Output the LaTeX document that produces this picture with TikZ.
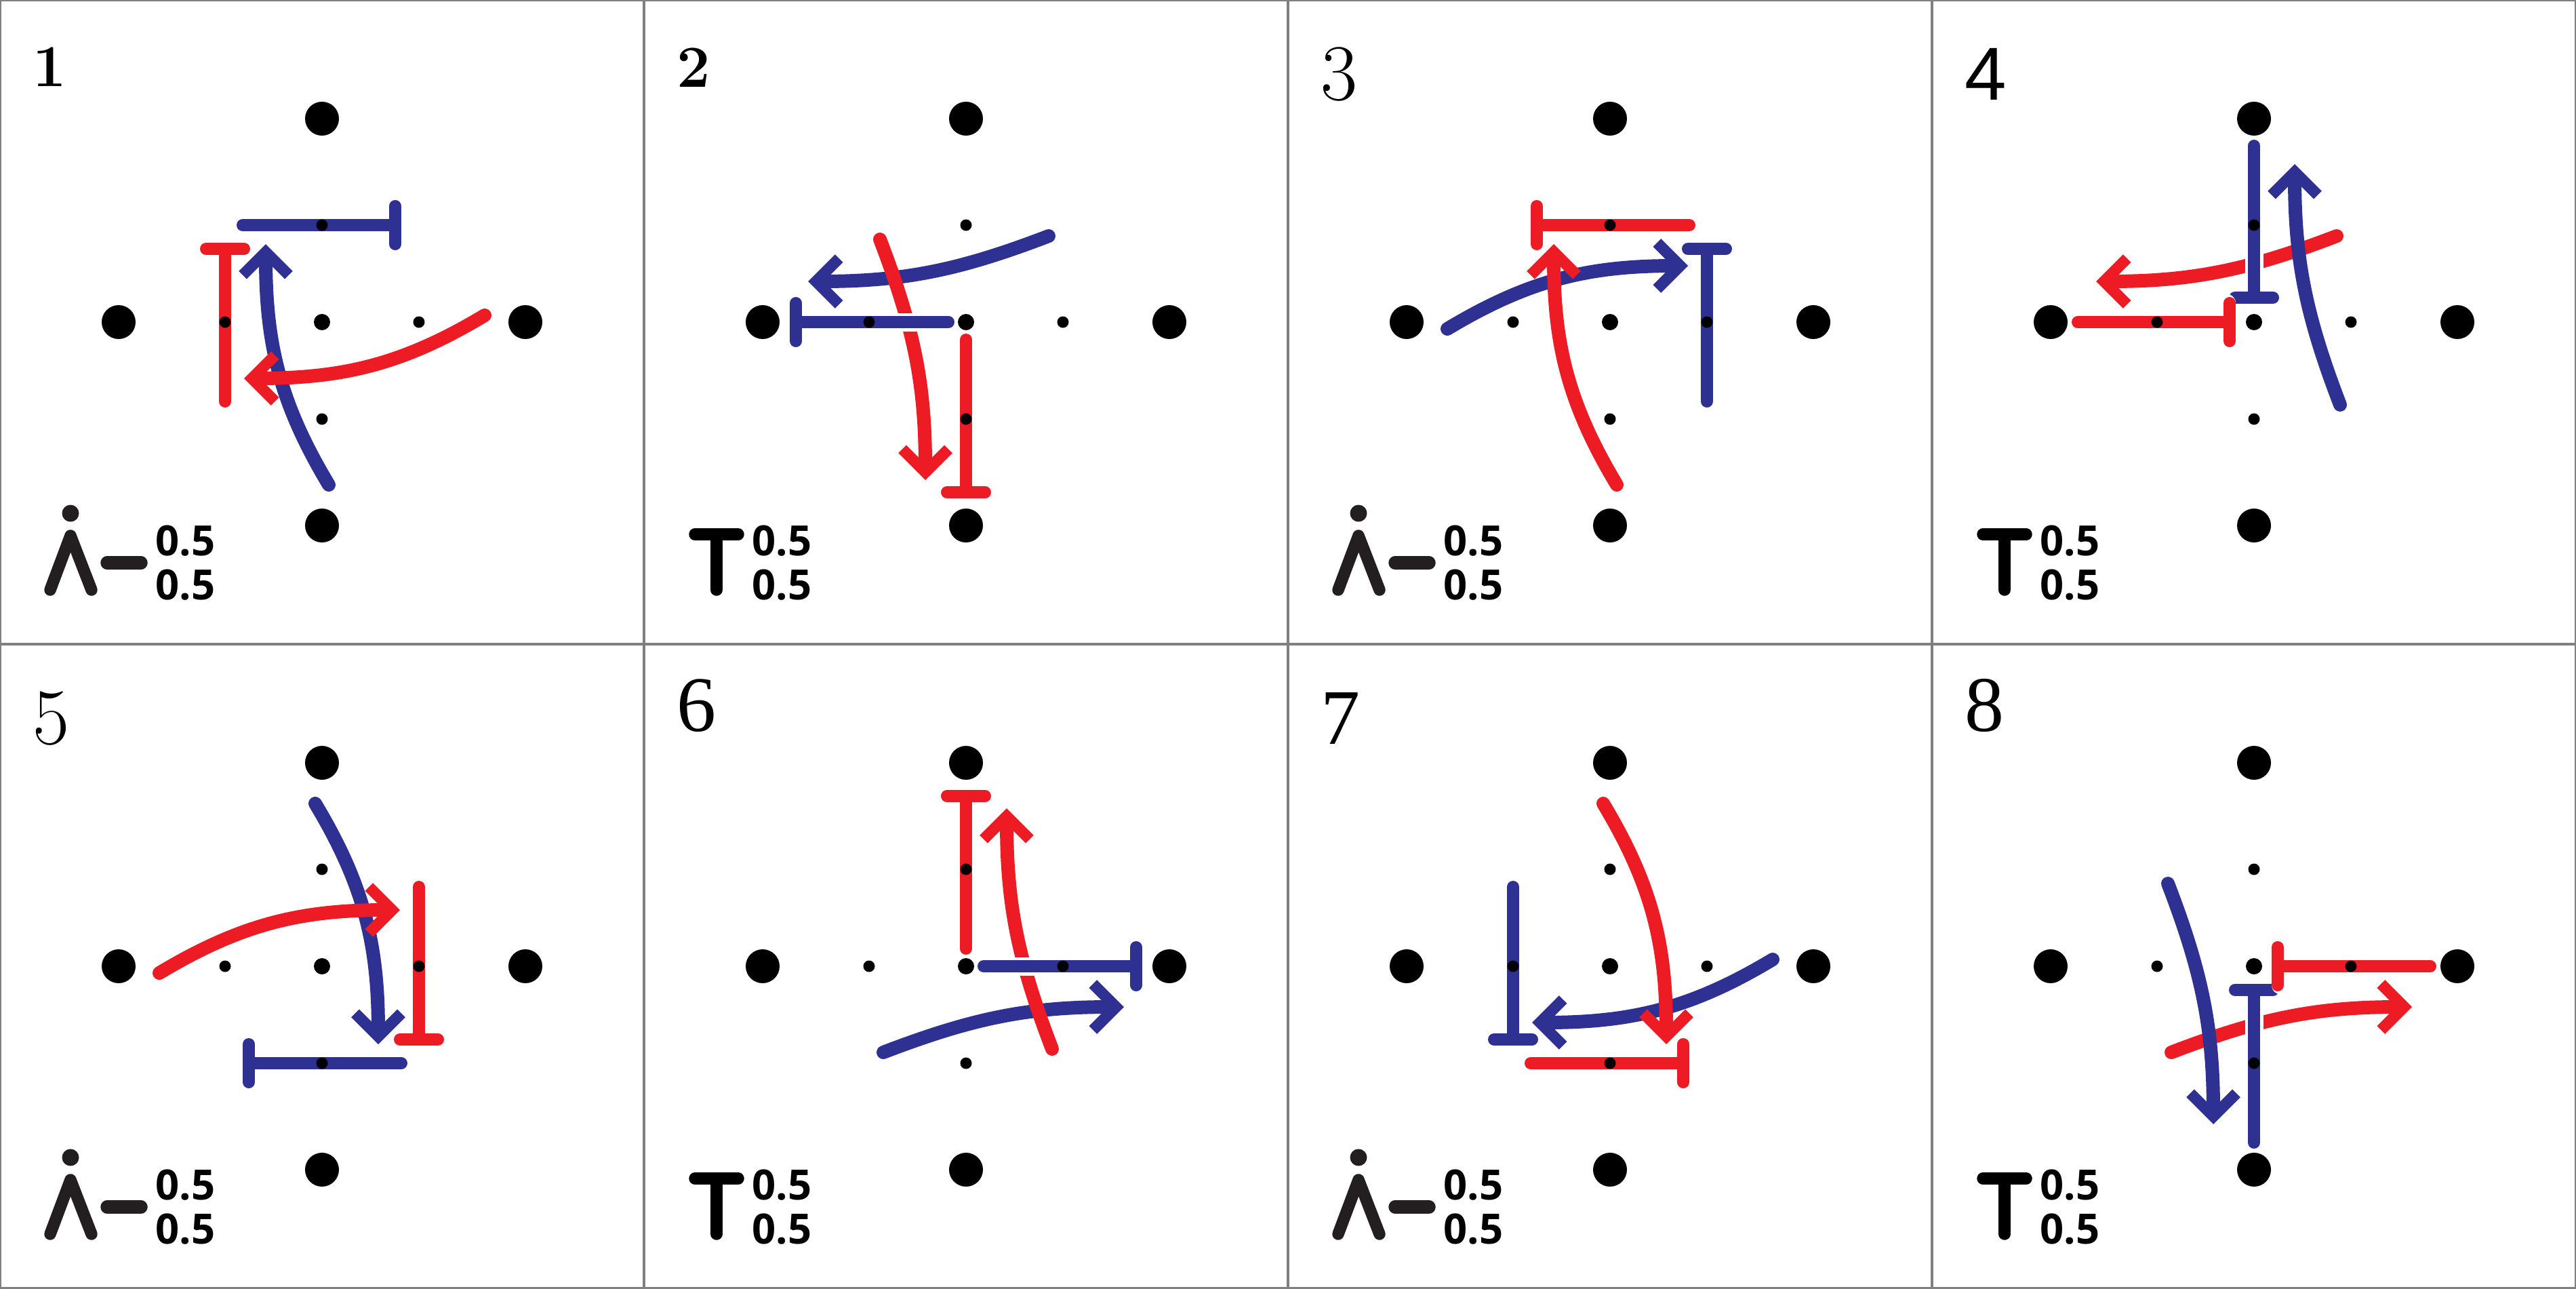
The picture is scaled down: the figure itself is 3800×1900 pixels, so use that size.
\documentclass[tikz,border=0pt]{standalone}
\usepackage{fontspec}
\newfontfamily\valfont{Open Sans}
\newfontfamily\serifnum{Liberation Serif}
\newfontfamily\sansnum{Liberation Sans}
\usetikzlibrary{arrows.meta}
\definecolor{qblue}{HTML}{2E3192}
\definecolor{qred}{HTML}{ED1C24}
\definecolor{inkgray}{HTML}{231F20}
\newcommand{\fnumb}{\bfseries\fontsize{25}{25}\selectfont}
\newcommand{\fnumlm}{\fontsize{33.5}{34}\selectfont}
\newcommand{\fnumser}{\serifnum\fontsize{33}{34}\selectfont}
\newcommand{\fnumsans}{\sansnum\fontsize{31.5}{34}\selectfont}

\newcommand{\bendA}[2]{%
  \coordinate (#1s) at (10,-240);
  \coordinate (#1e) at (-83,115);
  \draw[curve,#2] (#1s) to[out=121,in=270] (#1e);}
\newcommand{\bendC}[2]{%
  \coordinate (#1s) at (122,127);
  \coordinate (#1e) at (-233,60);
  \draw[curve,#2] (#1s) to[out=201,in=0] (#1e);}

\begin{document}
\begin{tikzpicture}[x=0.1mm,y=0.1mm,
  bigdot/.style={circle,fill=black,inner sep=0pt,minimum size=5mm},
  smalldot/.style={circle,fill=black,inner sep=0pt,minimum size=1.7mm},
  middot/.style={circle,fill=black,inner sep=0pt,minimum size=2.4mm},
  curve/.style={line width=2mm,line cap=round,-{Straight Barb[length=3.4mm,width=6.8mm,line width=1.65mm]}},
  blocker/.style={line width=1.8mm,line cap=round,-{Bar[width=5.6mm,round]},preaction={draw=white,line width=2.7mm}},
  glyph/.style={line width=1.75mm,line cap=round,line join=round},
  frame/.style={draw=black!50,line width=0.35mm},
  value/.style={inner sep=0pt,anchor=base west,font=\valfont\bfseries\fontsize{17.5}{19}\selectfont},
  numeral/.style={inner sep=0pt,anchor=base west}]

\useasboundingbox (0,0) rectangle (3800,-1900);

\foreach \n/\col/\row/\typ/\rot/\bt/\xa/\ya/\xb/\yb in {
  1/0/0/A/0/0/-117/143/117/143, 2/1/0/C/0/0/-26/0/-260/0,
  3/2/0/A/-90/0/143/-117/143/117, 4/3/0/C/-90/1/0/260/0/27,
  5/0/1/A/180/0/117/-143/-117/-143, 6/1/1/C/180/0/26/0/260/0,
  7/2/1/A/90/0/-143/117/-143/-117, 8/3/1/C/90/1/0/-260/0/-26}
{
\begin{scope}[shift={(475+950*\col,-475-950*\row)}]
  \ifnum\bt=1
    \begin{scope}[rotate=\rot+90]\csname bend\typ\endcsname{r\n}{qred}\end{scope}
    \begin{scope}[rotate=\rot]\csname bend\typ\endcsname{b\n}{qblue}\end{scope}
  \else
    \begin{scope}[rotate=\rot]\csname bend\typ\endcsname{b\n}{qblue}\end{scope}
    \begin{scope}[rotate=\rot+90]\csname bend\typ\endcsname{r\n}{qred}\end{scope}
  \fi
  \coordinate (bb\n a) at (\xa,\ya);
  \coordinate (bb\n b) at (\xb,\yb);
  \draw[blocker,qblue] (bb\n a) -- (bb\n b);
  \begin{scope}[rotate=90]
    \coordinate (rb\n a) at (\xa,\ya);
    \coordinate (rb\n b) at (\xb,\yb);
    \draw[blocker,qred] (rb\n a) -- (rb\n b);
  \end{scope}
  \node[middot] (c\n) at (0,0) {};
  \foreach \d/\a in {E/0,N/90,W/180,S/270}{
    \node[smalldot] (s\n\d) at (\a:143) {};
    \node[bigdot] (d\n\d) at (\a:300) {};
  }
  \ifodd\n
    \fill[inkgray] (-371,-282) circle (12.5);
    \draw[glyph,inkgray] (-401,-395) -- (-371,-315) -- (-340,-395);
    \draw[glyph,inkgray,line width=1.95mm] (-317,-355) -- (-267,-355);
    \node[value] (v\n a) at (-246,-344) {0.5};
    \node[value] (v\n b) at (-246,-409) {0.5};
  \else
    \draw[glyph] (-400,-313) -- (-336,-313) (-368,-313) -- (-368,-395);
    \node[value] (v\n a) at (-316,-344) {0.5};
    \node[value] (v\n b) at (-316,-409) {0.5};
  \fi
\end{scope}
}

\foreach \n/\col/\row/\sty/\bl in {1/0/0/\fnumb/127, 2/1/0/\fnumb/128,
  3/2/0/\fnumlm/147, 4/3/0/\fnumsans/147, 5/0/1/\fnumlm/147,
  6/1/1/\fnumser/128, 7/2/1/\fnumser/147, 8/3/1/\fnumser/128}
  \node[numeral,font=\sty] (t\n) at (950*\col+48,-950*\row-\bl) {\n};

\draw[frame] (0,0) rectangle (3800,-1900)
  (950,0) -- (950,-1900) (1900,0) -- (1900,-1900) (2850,0) -- (2850,-1900)
  (0,-950) -- (3800,-950);
\end{tikzpicture}
\end{document}
